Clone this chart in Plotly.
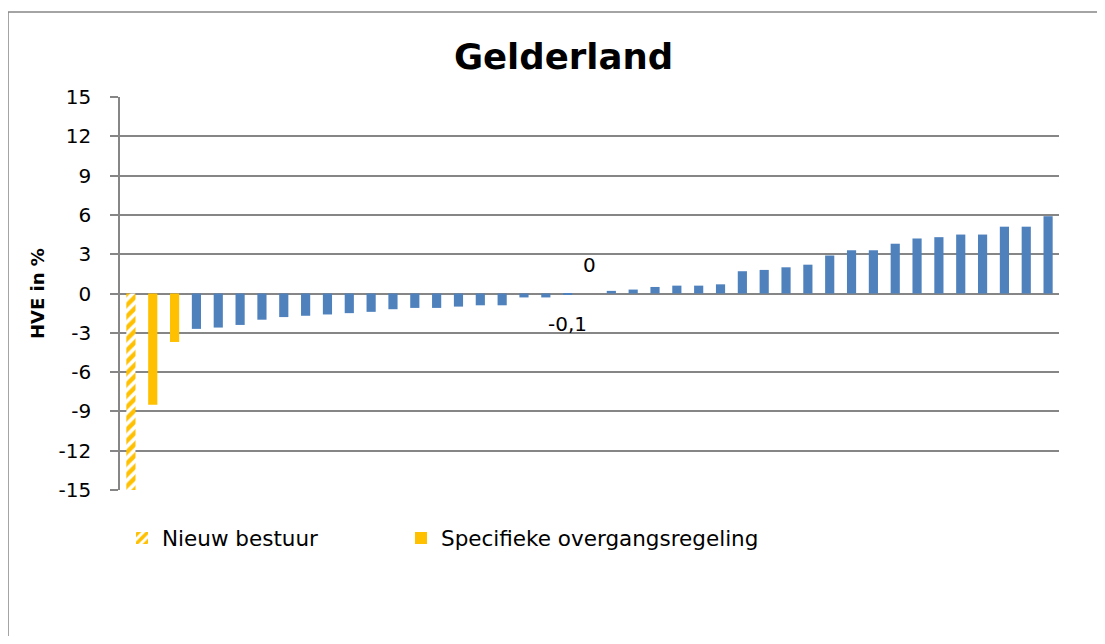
import plotly.graph_objects as go

# ---- data ----
title_text = "Gelderland"
y_title = "HVE in %"
values = [-15, -8.5, -3.7, -2.7, -2.6, -2.4, -2.0, -1.8, -1.7, -1.6, -1.5,
          -1.4, -1.2, -1.1, -1.1, -1.0, -0.9, -0.9, -0.3, -0.3, -0.1, 0,
          0.2, 0.3, 0.5, 0.6, 0.6, 0.7, 1.7, 1.8, 2.0, 2.2, 2.9, 3.3, 3.3,
          3.8, 4.2, 4.3, 4.5, 4.5, 5.1, 5.1, 5.9]
groups = ["nieuw", "specifiek", "specifiek"] + ["overig"] * 40
legend_names = {"nieuw": "Nieuw bestuur", "specifiek": "Specifieke overgangsregeling"}
y_ticks = [-15, -12, -9, -6, -3, 0, 3, 6, 9, 12, 15]
labelled = {20: "-0,1", 21: "0"}  # index -> data label text

OFF = 8  # page body margin in the browser
W, H = 1105 - 2 * OFF, 644 - 2 * OFF
L, T = 120 - OFF, 97 - OFF
R, B = W - (1059 - OFF), H - (490 - OFF)
pw, ph = W - L - R, H - T - B

def px_x(p):  # screen px -> paper x
    return (p - OFF - L) / pw

def px_y(p):  # screen px -> paper y
    return (H - B - (p - OFF)) / ph

ORANGE = "#FFC000"
BLUE = "#4F81BD"
GRID = "#868686"
FONT = "DejaVu Sans"

idx = list(range(len(values)))

def sel(g):
    xs = [i for i in idx if groups[i] == g]
    return xs, [values[i] for i in xs]

fig = go.Figure()

xs, ys = sel("nieuw")
fig.add_trace(go.Bar(x=xs, y=ys, name=legend_names["nieuw"], width=0.42, legend="legend",
                     marker=dict(color="white", line=dict(width=0),
                                 pattern=dict(shape="/", fgcolor=ORANGE, bgcolor="white",
                                              fgopacity=1, size=8, solidity=0.55,
                                              fillmode="replace"))))
xs, ys = sel("specifiek")
fig.add_trace(go.Bar(x=xs, y=ys, name=legend_names["specifiek"], width=0.42, legend="legend2",
                     marker=dict(color=ORANGE, line=dict(width=0))))
xs, ys = sel("overig")
fig.add_trace(go.Bar(x=xs, y=ys, name="Overig", width=0.42, showlegend=False,
                     marker=dict(color=BLUE, line=dict(width=0))))

annotations = []
for i, txt in labelled.items():
    v = values[i]
    annotations.append(dict(x=i, y=v, xref="x", yref="y", text=txt, showarrow=False,
                            yshift=29 if v >= 0 else -29,
                            font=dict(family=FONT, size=20, color="black")))
annotations.append(dict(x=px_x(37), y=px_y(294), xref="paper", yref="paper",
                        text="<b>" + y_title + "</b>", textangle=-90, showarrow=False,
                        xanchor="center", yanchor="middle",
                        font=dict(family=FONT, size=18, color="black")))

legend_common = dict(orientation="h", yanchor="middle", xanchor="left",
                     font=dict(family=FONT, size=21.5, color="black"),
                     bgcolor="rgba(0,0,0,0)")

border = dict(color=GRID, width=1.5)

fig.update_layout(
    width=W, height=H,
    margin=dict(l=L, r=R, t=T, b=B, autoexpand=False),
    paper_bgcolor="white", plot_bgcolor="white",
    barmode="relative",
    title=dict(text="<b>" + title_text + "</b>", xref="container", yref="container",
               x=(563.5 - OFF) / W, y=1 - (57 - OFF) / H, xanchor="center", yanchor="middle",
               font=dict(family=FONT, size=35.5, color="black")),
    xaxis=dict(range=[-0.5, len(values) - 0.5], showticklabels=False, showgrid=False,
               zeroline=False, showline=False, ticks=""),
    yaxis=dict(range=[-15, 15], tickvals=y_ticks, ticktext=[str(t) for t in y_ticks],
               showgrid=True, gridcolor=GRID, gridwidth=1.5,
               zeroline=True, zerolinecolor=GRID, zerolinewidth=1.5,
               showline=True, linecolor=GRID, linewidth=1.5,
               ticks="outside", ticklen=8, tickcolor=GRID, tickwidth=1.5,
               ticklabelstandoff=15,
               tickfont=dict(family=FONT, size=20, color="black")),
    legend=dict(x=px_x(122), y=px_y(538), **legend_common),
    legend2=dict(x=px_x(401), y=px_y(538), **legend_common),
    annotations=annotations,
    shapes=[
        dict(type="line", xref="paper", yref="paper",
             x0=px_x(8), x1=px_x(1125), y0=px_y(12), y1=px_y(12), line=border, layer="below"),
        dict(type="line", xref="paper", yref="paper",
             x0=px_x(8), x1=px_x(8), y0=px_y(12), y1=px_y(670), line=border, layer="below"),
    ],
)

fig.write_html("out.html")
